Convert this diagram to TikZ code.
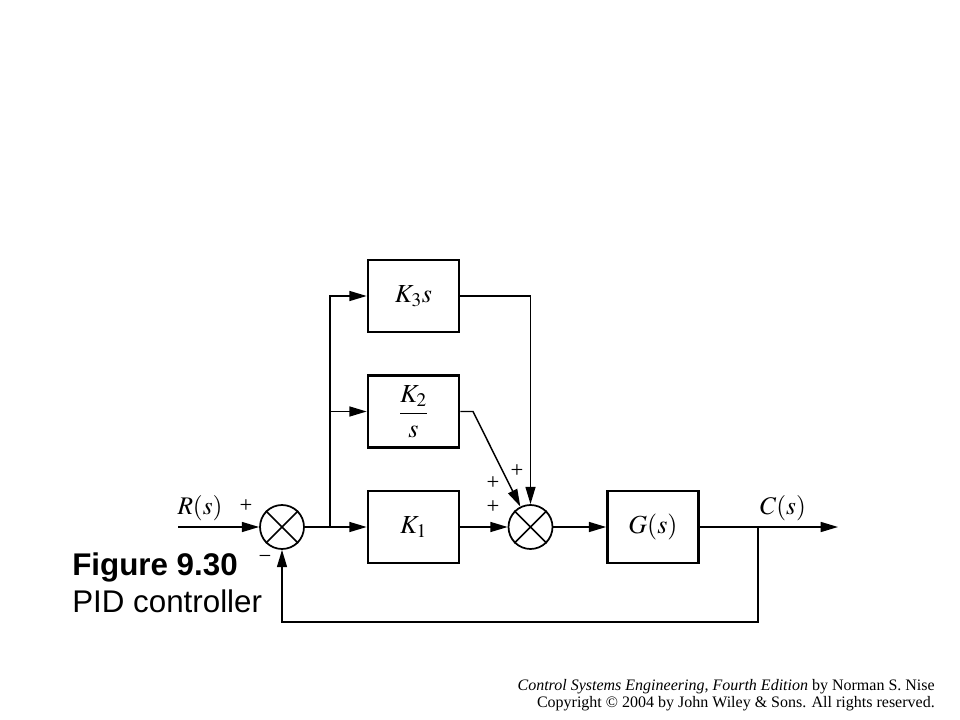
\documentclass[tikz,border=0pt]{standalone}
\usepackage{mathptmx}
\usepackage{fontspec}
\setmainfont{Liberation Serif}
\newfontfamily\arialfont{Liberation Sans}
\usetikzlibrary{arrows.meta}
\tikzset{
  blk/.style={draw, line width=2pt, minimum width=68.25pt, minimum height=54pt, inner sep=0pt, font=\fontsize{19.5}{22}\selectfont},
  sumj/.style={draw, circle, line width=1.3pt, minimum size=33pt, inner sep=0pt},
  lbl/.style={inner sep=0pt, font=\fontsize{19}{22}\selectfont},
  sgn/.style={inner sep=0pt, font=\fontsize{17}{20}\selectfont},
  sig/.style={line width=1.1pt, -{Triangle[length=13pt, width=7.5pt]}},
  wire/.style={line width=1.1pt}
}
\begin{document}
\begin{tikzpicture}[x=0.75pt, y=-0.75pt]
\useasboundingbox (0,0) rectangle (960,720);


\coordinate (r) at (178,527);
\node[lbl] (rl) at (200,508) {$R(s)$};
\node[sumj] (s1) at (282,527) {};
\draw[line width=1.3pt] (s1.north west) -- (s1.south east) (s1.north east) -- (s1.south west);
\node[sgn] (p1) at (246,506) {+};
\node[sgn] (m1) at (265,559) {−};
\coordinate (br) at (330,527);



\node[blk] (k3) at (413.5,296) {$K_3s$};
\node[blk] (k2) at (413.5,411.5) {$\displaystyle\frac{K_2}{s}$};
\node[blk] (k1) at (413.5,527) {$K_1$};
\draw[wire] (s1) -- (br);
\draw[sig] (br) -- (k1);
\draw[sig] (br) |- (k3.west);
\draw[sig] (br) |- (k2.west);



\node[sumj] (s2) at (530.5,527) {};
\draw[line width=1.3pt] (s2.north west) -- (s2.south east) (s2.north east) -- (s2.south west);
\node[sgn] (p2) at (517,471) {+};
\node[sgn] (p3) at (493,483) {+};
\node[sgn] (p4) at (493,507) {+};
\coordinate (k2c) at (473,411.5);
\draw[sig] (k1) -- (s2);
\draw[sig] (k3.east) -| (s2.north);
\draw[sig] (k2.east) -- (k2c) -- (s2);



\node[blk] (g) at (653,527) {$G(s)$};
\node[lbl] (cl) at (783,508) {$C(s)$};
\coordinate (c) at (838,527);
\coordinate (fb) at (758,527);
\coordinate (bot) at (758,622);
\draw[sig] (r) -- (s1);
\draw[sig] (s2) -- (g);
\draw[sig] (g) -- (c);
\draw[sig] (fb) -- (bot) -| (s1.south);



\node[anchor=base west, inner sep=0pt, font=\arialfont\bfseries\fontsize{23.5}{27}\selectfont] (fig) at (72,575.7) {Figure 9.30};
\node[anchor=base west, inner sep=0pt, font=\arialfont\fontsize{23.5}{27}\selectfont] (cap) at (72,612.7) {PID controller};
\node[anchor=base east, inner sep=0pt, font=\fontsize{12}{14}\selectfont] (src1) at (935,690) {\textit{Control Systems Engineering, Fourth Edition} by Norman S. Nise};
\node[anchor=base east, inner sep=0pt, font=\fontsize{12}{14}\selectfont] (src2) at (935,707) {Copyright © 2004 by John Wiley \& Sons. All rights reserved.};
\end{tikzpicture}
\end{document}
